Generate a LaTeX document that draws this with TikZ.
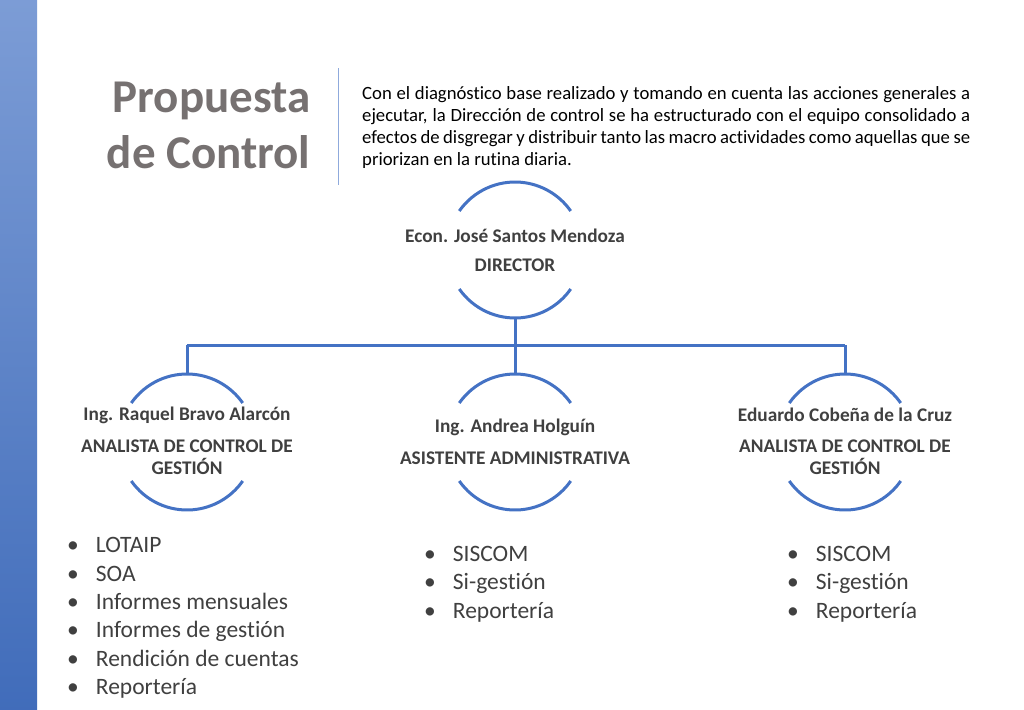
\documentclass[tikz,border=0pt]{standalone}
\usepackage{fontspec}
\setmainfont{Carlito}[Ligatures=NoCommon]
\definecolor{lblue}{HTML}{4472C4}
\definecolor{tgrey}{HTML}{404040}
\definecolor{ttl}{HTML}{767171}
\begin{document}
\begin{tikzpicture}[x=1pt,y=-1pt,
  arcs/.style={draw=lblue,line width=3pt},
  conn/.style={draw=lblue,line width=3pt},
  lbl/.style={text=tgrey,font=\fontsize{19.3}{22}\selectfont\bfseries,align=center},
  bl/.style={anchor=west,text=tgrey,font=\fontsize{23.5}{28.4}\selectfont,align=left,inner sep=0pt}]
\useasboundingbox (0,0) rectangle (1024,709);
\fill[white] (0,0) rectangle (1024,709);
\shade[top color=lblue!70,bottom color=lblue!95!black] (0,0) rectangle (37,709);
\draw[lblue!60,line width=1pt] (338,68) -- (338,185);
\node[anchor=east,text=ttl,font=\fontsize{47}{56}\selectfont\bfseries,align=right] (title) at (314,125) {Propuesta\\de Control};
\node[anchor=north west,text width=608pt,align=justify,inner sep=0pt,font=\fontsize{18.7}{22}\selectfont,text=black] (para) at (362,86) {Con el diagnóstico base realizado y tomando en cuenta las acciones generales a ejecutar, la Dirección de control se ha estructurado con el equipo consolidado a efectos de disgregar y distribuir tanto las macro actividades como aquellas que se priorizan en la rutina diaria.};
\node[lbl] (dn) at (515,236) {Econ. José Santos Mendoza};
\node[lbl] (dt) at (515,265) {DIRECTOR};
\foreach \cx/\cy in {515/250,187/442,515/442,845/442}{
  \draw[arcs] (\cx,\cy) ++(145:68) arc[start angle=145,end angle=35,radius=68];
  \draw[arcs] (\cx,\cy) ++(215:68) arc[start angle=215,end angle=325,radius=68];
}
\coordinate (dbot) at (515,318);
\coordinate (j) at (515,345);
\coordinate (ja) at (187,345);
\coordinate (jc) at (845,345);
\draw[conn] (dbot) -- (j);
\draw[conn] (ja) -- (jc);
\draw[conn] (ja) -- (187,374);
\draw[conn] (j) -- (515,374);
\draw[conn] (jc) -- (845,374);
\node[lbl] (an) at (187,415) {Ing. Raquel Bravo Alarcón};
\node[lbl] (at) at (187,457) {ANALISTA DE CONTROL DE\\GESTIÓN};
\node[lbl] (bn) at (515,427) {Ing. Andrea Holguín};
\node[lbl] (bt) at (515,458) {ASISTENTE ADMINISTRATIVA};
\node[lbl] (cn) at (845,415) {Eduardo Cobeña de la Cruz};
\node[lbl] (ct) at (845,457) {ANALISTA DE CONTROL DE\\GESTIÓN};
\node[bl] (la) at (67,618) {•\hspace{17pt}LOTAIP\\•\hspace{17pt}SOA\\•\hspace{17pt}Informes mensuales\\•\hspace{17pt}Informes de gestión\\•\hspace{17pt}Rendición de cuentas\\•\hspace{17pt}Reportería};
\node[bl] (lb) at (424,584) {•\hspace{17pt}SISCOM\\•\hspace{17pt}Si-gestión\\•\hspace{17pt}Reportería};
\node[bl] (lc) at (787,584) {•\hspace{17pt}SISCOM\\•\hspace{17pt}Si-gestión\\•\hspace{17pt}Reportería};
\end{tikzpicture}
\end{document}
